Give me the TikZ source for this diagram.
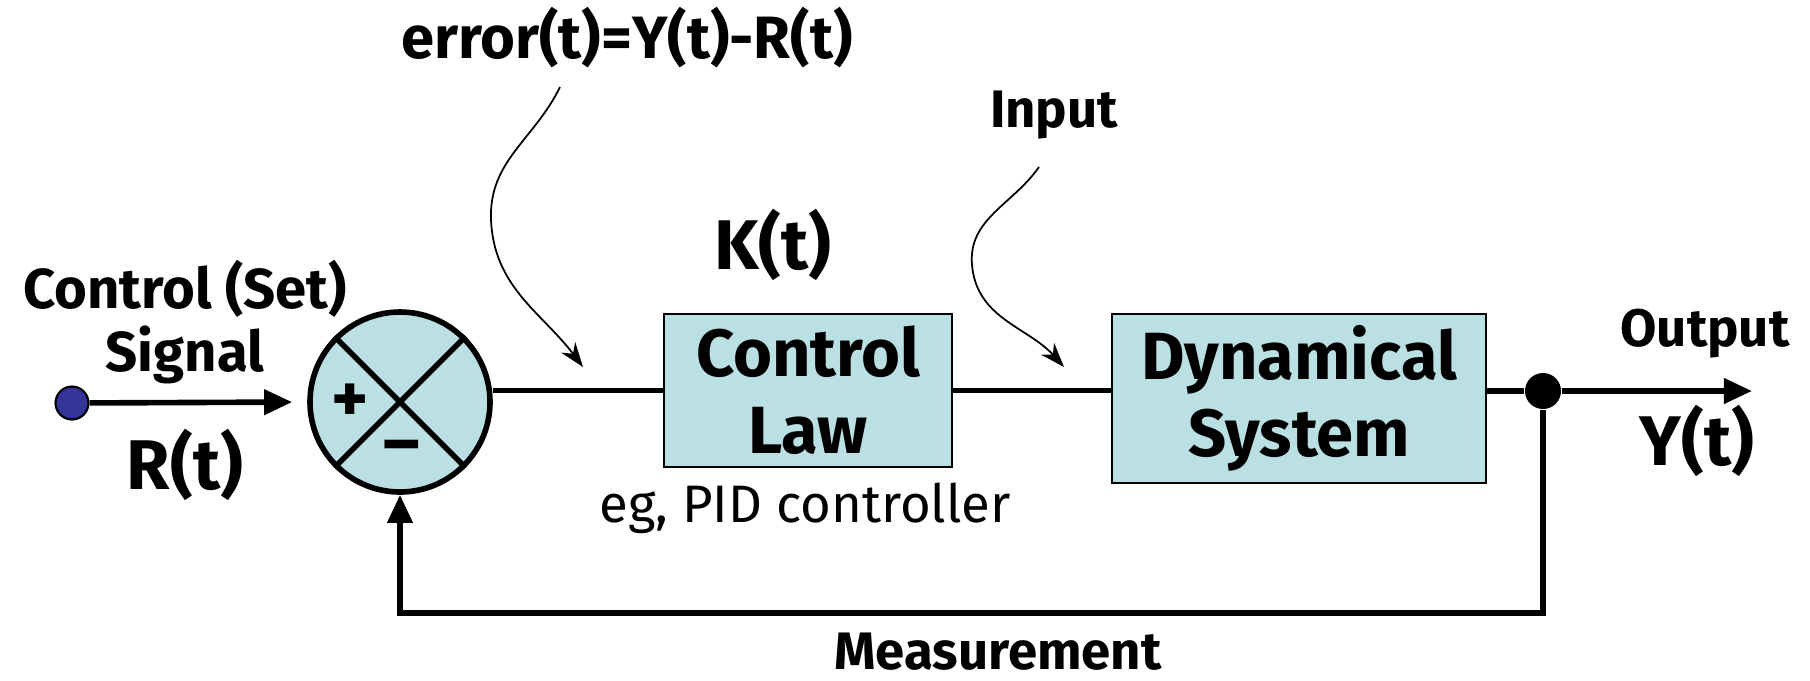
\documentclass[tikz,border=0pt]{standalone}
\usepackage{fontspec}
\setmainfont{Fira Sans}
\usetikzlibrary{arrows.meta,positioning}
\definecolor{boxfill}{RGB}{187,224,227}
\definecolor{srcblue}{RGB}{51,51,153}

\begin{document}
\begin{tikzpicture}[
  wire/.style={line width=1.6pt},
  tip/.style={-{Triangle[length=8pt,width=7pt]}},
  block/.style={draw, line width=0.6pt, fill=boxfill, align=center,
    font=\fontsize{19}{22}\selectfont\bfseries},
  lbl/.style={font=\fontsize{15}{18}\selectfont\bfseries, align=center},
  big/.style={font=\fontsize{20}{24}\selectfont\bfseries},
  note/.style={-{Stealth[length=7pt,width=5pt]}, line width=0.5pt}
]
  \useasboundingbox (0,0) rectangle (18.10,6.80);

  % blocks
  \node[circle, draw, wire, fill=boxfill, minimum size=1.80cm, inner sep=0] (sum) at (4.00,2.78) {};
  \node[block, minimum width=2.88cm, minimum height=1.43cm] (law) at (8.08,2.895) {Control\\Law};
  \node[block, minimum width=3.74cm, minimum height=1.59cm] (sys) at (12.99,2.815) {Dynamical\\System};

  \draw[wire] (sum.north west) -- (sum.south east);
  \draw[wire] (sum.north east) -- (sum.south west);
  \node[big] (plus) at (3.50,2.77) {+};
  \node[big] (minus) at (4.02,2.27) {–};

  % signal in
  \node[circle, draw, line width=0.6pt, fill=srcblue, minimum size=0.33cm, inner sep=0] (src) at (0.72,2.77) {};
  \draw[wire, tip, shorten >=0.15cm] (src) -- (sum.west);
  \node[lbl, font=\fontsize{16}{18}\selectfont\bfseries] (setlbl) at (1.85,3.58) {Control (Set)\\Signal};
  \node[big] (rt) at (1.85,2.15) {R(t)};

  % forward path
  \draw[wire] (sum.east |- law.west) -- (law.west);
  \draw[wire] (law.east) -- (law.east -| sys.west);
  \node[circle, fill, minimum size=0.36cm, inner sep=0] (jn) at (15.43,2.89) {};
  \coordinate (yout) at (17.52,2.89);
  \draw[wire] (sys.east |- jn) -- (jn);
  \draw[wire, tip] (jn) -- (yout);
  \node[lbl] (outlbl) at (17.05,3.46) {Output};
  \node[big] (yt) at (16.97,2.39) {Y(t)};

  % feedback
  \coordinate (fb) at (4.00,0.67);
  \draw[wire, tip] (jn) |- (fb) -- (sum.south);
  \node[lbl] (meas) at (9.98,0.28) {Measurement};

  % labels
  \node[big] (kt) at (7.73,4.35) {K(t)};
  \node[font=\fontsize{15}{18}\selectfont] (pid) at (8.05,1.72) {eg, PID controller};
  \node[lbl, font=\fontsize{17}{20}\selectfont\bfseries] (err) at (6.27,6.42) {error(t)=Y(t)-R(t)};
  \node[lbl] (inlbl) at (10.54,5.65) {Input};

  \coordinate (errfrom) at (5.60,5.93);
  \coordinate (errbend) at (4.91,4.61);
  \coordinate (errto) at (5.83,3.13);
  \coordinate (infrom) at (10.39,5.13);
  \coordinate (inbend) at (9.72,4.15);
  \coordinate (into) at (10.64,3.13);
  \draw[note] (errfrom) to[out=-116,in=92] (errbend) to[out=-88,in=127] (errto);
  \draw[note] (infrom) to[out=-125,in=95] (inbend) to[out=-85,in=132] (into);
\end{tikzpicture}
\end{document}
